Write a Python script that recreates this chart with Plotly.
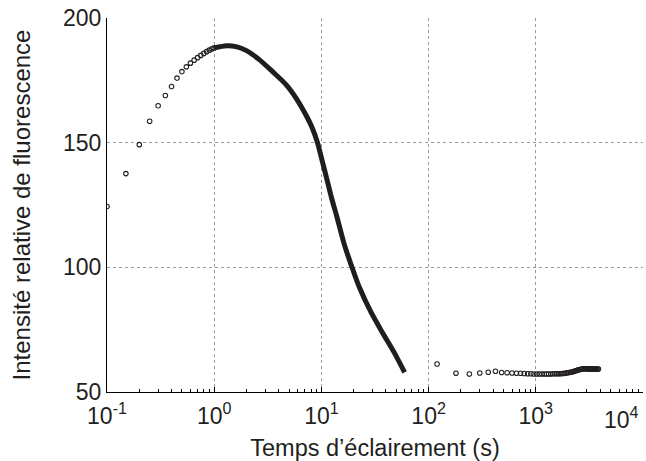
import plotly.graph_objects as go

# Early phase: sparse measurements (s, relative intensity)
t_early = [0.10, 0.15, 0.20, 0.25, 0.30, 0.35, 0.40, 0.45, 0.50, 0.55,
           0.60, 0.65, 0.70, 0.75, 0.80, 0.85, 0.90, 0.95, 1.00]
f_early = [124.4, 137.6, 149.2, 158.6, 164.8, 168.9, 172.5, 175.9, 178.5, 180.4,
           181.9, 183.1, 184.1, 185.0, 185.8, 186.5, 187.1, 187.6, 188.0]

# Dense phase (appears as a continuous thick trace)
t_dense = [1.0, 1.3, 1.6, 2.0, 2.6, 3.5, 4.7, 5.8, 7.3, 8.2, 9.2, 10.2, 11.3,
           12.5, 13.9, 16.4, 19.2, 22.6, 29.1, 37.4, 48.1, 59.7]
f_dense = [188.0, 188.9, 188.5, 186.9, 183.5, 178.5, 173.2, 167.9, 160.5, 156.0, 150.0, 142.5, 135.0,
           127.5, 120.5, 109.0, 100.3, 92.0, 81.9, 73.6, 65.6, 57.9]

# Late phase: one measurement every 60 s
t_late = [120, 180, 240, 300, 360, 420, 480, 540, 600, 660,
          720, 780, 840, 900, 960, 1020, 1080, 1140, 1200, 1260,
          1320, 1380, 1440, 1500, 1560, 1620, 1680, 1740, 1800, 1860,
          1920, 1980, 2040, 2100, 2160, 2220, 2280, 2340, 2400, 2460,
          2520, 2580, 2640, 2700, 2760, 2820, 2880, 2940, 3000, 3060,
          3120, 3180, 3240, 3300, 3360, 3420, 3480, 3540, 3600, 3660,
          3720, 3780, 3840]
f_late = [61.2, 57.5, 57.2, 57.6, 57.9, 58.3, 57.8, 57.7, 57.6, 57.5,
          57.5, 57.4, 57.3, 57.3, 57.2, 57.2, 57.2, 57.2, 57.2, 57.2,
          57.2, 57.2, 57.3, 57.3, 57.3, 57.3, 57.3, 57.4, 57.4, 57.5,
          57.6, 57.7, 57.8, 57.9, 58.0, 58.1, 58.3, 58.5, 58.6, 58.8,
          58.9, 59.0, 59.1, 59.2, 59.3, 59.3, 59.3, 59.3, 59.3, 59.2,
          59.2, 59.2, 59.2, 59.2, 59.2, 59.2, 59.2, 59.2, 59.2, 59.2,
          59.2, 59.2, 59.2]

x_tickvals = [0.1, 1, 10, 100, 1000, 10000]
x_ticktext = ["10<sup>-1</sup>", "10<sup>0</sup>", "10<sup>1</sup>",
              "10<sup>2</sup>", "10<sup>3</sup>", " "]
y_tickvals = [50, 100, 150, 200]

FONT = "Liberation Sans, Arial, Helvetica, sans-serif"
INK = "#231f20"

fig = go.Figure()
fig.add_trace(go.Scatter(x=t_dense, y=f_dense, mode="lines",
                         line=dict(color="#1e1e1e", width=5, shape="spline", smoothing=0.8),
                         hoverinfo="skip"))
fig.add_trace(go.Scatter(x=t_early, y=f_early, mode="markers",
                         marker=dict(symbol="circle-open", size=4.5, color=INK,
                                     line=dict(width=1.1, color=INK))))
fig.add_trace(go.Scatter(x=t_late, y=f_late, mode="markers",
                         marker=dict(symbol="circle-open", size=4.5, color=INK,
                                     line=dict(width=1.1, color=INK))))

fig.update_layout(
    width=646, height=461,
    margin=dict(l=107, r=3, t=18, b=69),
    paper_bgcolor="white", plot_bgcolor="white",
    showlegend=False,
    font=dict(family=FONT, color=INK, size=23),
    xaxis=dict(
        type="log", range=[-1, 4], automargin=False,
        tickmode="array", tickvals=x_tickvals, ticktext=x_ticktext,
        showgrid=True, gridcolor="#9a9a9a", griddash="dot", gridwidth=1,
        showline=True, linecolor="black", linewidth=1.2,
        ticks="inside", ticklen=5, tickcolor="black",
        minor=dict(ticks="inside", ticklen=3, tickcolor="black", showgrid=False,
                   tickvals=[v * m for v in [0.1, 1, 10, 100, 1000] for m in range(2, 10)]),
        tickfont=dict(size=23, family=FONT, color=INK),
        ticklabelstandoff=3,
        title=dict(text="Temps d\u2019éclairement (s)", font=dict(size=23.5, family=FONT, color=INK),
                   standoff=17),
        zeroline=False,
    ),
    yaxis=dict(
        range=[50, 200], automargin=False,
        tickmode="array", tickvals=y_tickvals,
        showgrid=True, gridcolor="#9a9a9a", griddash="dot", gridwidth=1,
        showline=True, linecolor="black", linewidth=1.2,
        ticks="",
        tickfont=dict(size=23, family=FONT, color=INK),
        title=dict(text="Intensité relative de fluorescence", font=dict(size=24, family=FONT, color=INK),
                   standoff=25),
        zeroline=False,
    ),
    annotations=[dict(text="10<sup>4</sup>", xref="paper", yref="paper", x=1, y=0,
                      xanchor="right", yanchor="top", showarrow=False, yshift=-9, xshift=-2,
                      font=dict(size=23, family=FONT, color=INK))],
)

fig.write_html("out.html", config={"displayModeBar": False},
               post_script="document.body.style.margin='0';document.body.style.overflow='hidden';")
